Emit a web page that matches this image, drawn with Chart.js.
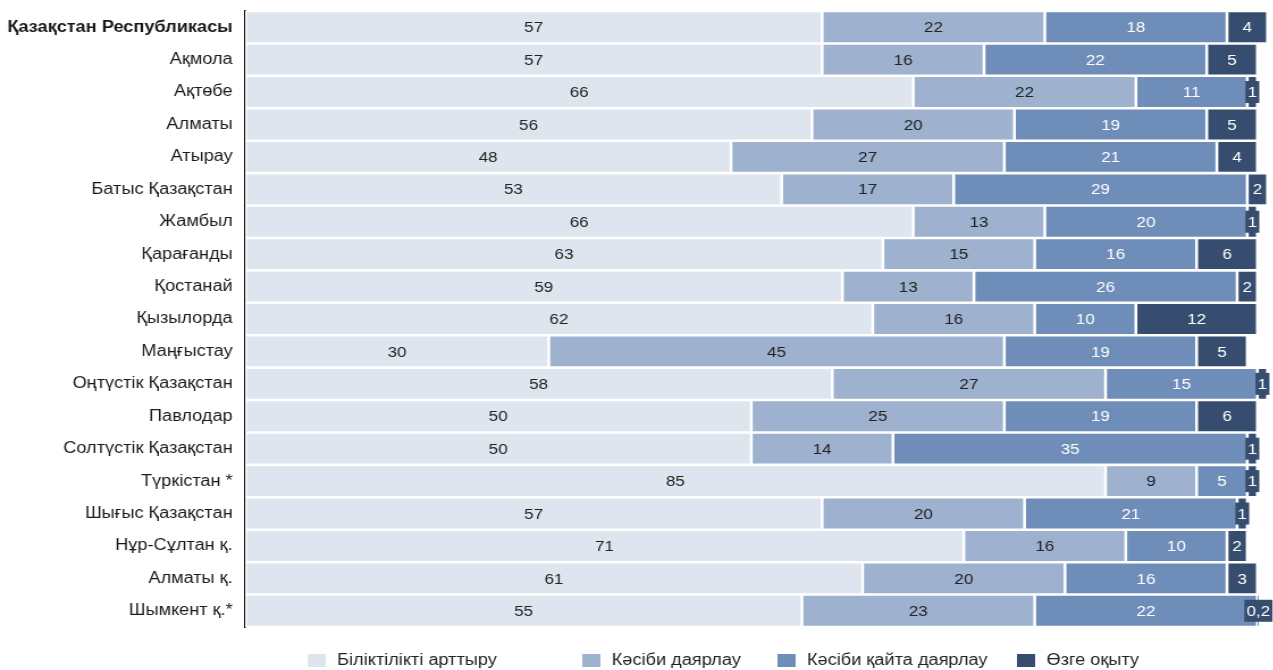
<!DOCTYPE html>
<html>
<head>
<meta charset="utf-8">
<script src="https://cdn.jsdelivr.net/npm/chart.js@4.4.1/dist/chart.umd.min.js"></script>
<style>
  html, body { margin: 0; padding: 0; background: #ffffff; overflow: hidden; }
  #wrap { position: relative; width: 1273px; height: 670px; overflow: hidden; }
  /* the drawing is laid out on a narrower canvas and widened to the page */
  #chart { display: block; transform-origin: 0 0; transform: scaleX(1.135); }
</style>
</head>
<body>
<div id="wrap"><canvas id="chart" width="1122" height="670" style="width:1122px;height:670px"></canvas></div>
<script>
// Regions of Kazakhstan and the share (%) of each training type
const regions = [
  'Қазақстан Республикасы', 'Ақмола', 'Ақтөбе', 'Алматы', 'Атырау',
  'Батыс Қазақстан', 'Жамбыл', 'Қарағанды', 'Қостанай', 'Қызылорда',
  'Маңғыстау', 'Оңтүстік Қазақстан', 'Павлодар', 'Солтүстік Қазақстан',
  'Түркістан *', 'Шығыс Қазақстан', 'Нұр-Сұлтан қ.', 'Алматы қ.', 'Шымкент қ.*'
];

const seriesNames = ['Біліктілікті арттыру', 'Кәсіби даярлау', 'Кәсіби қайта даярлау', 'Өзге оқыту'];

const upskilling   = [57, 57, 66, 56, 48, 53, 66, 63, 59, 62, 30, 58, 50, 50, 85, 57, 71, 61, 55];
const vocational   = [22, 16, 22, 20, 27, 17, 13, 15, 13, 16, 45, 27, 25, 14,  9, 20, 16, 20, 23];
const retraining   = [18, 22, 11, 19, 21, 29, 20, 16, 26, 10, 19, 15, 19, 35,  5, 21, 10, 16, 22];
const otherTraining = [4,  5,  1,  5,  4,  2,  1,  6,  2, 12,  5,  1,  6,  1,  1,  1,  2,  3, 0.2];

const fills = ['#dfe5ee', '#9eb1ce', '#6e8db8', '#374d6f'];
const labelInk = ['#222222', '#222222', '#ffffff', '#ffffff'];
const FONT = '"Liberation Sans", Arial, sans-serif';

const fmt = v => String(v).replace('.', ',');

// Value labels centred in each segment; the last series gets a dark chip
const segmentLabels = {
  id: 'segmentLabels',
  afterDatasetsDraw(chart) {
    const ctx = chart.ctx;
    ctx.save();
    ctx.font = '15px ' + FONT;
    ctx.textAlign = 'center';
    ctx.textBaseline = 'middle';
    chart.data.datasets.forEach((ds, di) => {
      const meta = chart.getDatasetMeta(di);
      meta.data.forEach((bar, i) => {
        const txt = fmt(ds.data[i]);
        const cx = (bar.x + bar.base) / 2;
        const cy = bar.y;
        if (di === 3) {
          const w = ctx.measureText(txt).width + 4;
          const segW = Math.abs(bar.x - bar.base) - 3;
          if (w > segW) {
            ctx.fillStyle = fills[3];
            ctx.fillRect(cx - w / 2, cy - 11, w, 22);
          }
        }
        ctx.fillStyle = labelInk[di];
        ctx.fillText(txt, cx, cy + 1);
      });
    });
    ctx.restore();
  }
};

// Legend row along the bottom edge
const bottomLegend = {
  id: 'bottomLegend',
  afterDraw(chart) {
    const ctx = chart.ctx;
    const xs = [271, 513, 685, 896];
    ctx.save();
    ctx.font = '16px ' + FONT;
    ctx.textBaseline = 'middle';
    ctx.textAlign = 'left';
    seriesNames.forEach((name, k) => {
      ctx.fillStyle = fills[k];
      ctx.fillRect(xs[k], 654, 16, 13);
      ctx.fillStyle = '#222222';
      ctx.fillText(name, xs[k] + 26, 661);
    });
    ctx.restore();
  }
};

const datasets = [upskilling, vocational, retraining, otherTraining].map((vals, k) => ({
  label: seriesNames[k],
  data: vals,
  backgroundColor: fills[k],
  borderColor: '#ffffff',
  borderWidth: 1.6,
  borderSkipped: false,
  barPercentage: 1,
  categoryPercentage: 1
}));

new Chart(document.getElementById('chart'), {
  type: 'bar',
  data: { labels: regions, datasets },
  options: {
    indexAxis: 'y',
    responsive: false,
    animation: false,
    devicePixelRatio: 1,
    layout: { padding: { top: 11, bottom: 43, right: 2.6, left: 0 } },
    plugins: { legend: { display: false }, tooltip: { enabled: false } },
    scales: {
      x: {
        stacked: true,
        display: false,
        min: 0,
        max: 101.3
      },
      y: {
        stacked: true,
        grid: { display: false, drawTicks: false },
        border: { display: true, color: '#000000', width: 1.4 },
        afterFit(scale) {
          scale.width = 216;
          scale.paddingTop = 0;
          scale.paddingBottom = 0;
        },
        ticks: {
          padding: 11,
          color: '#1a1a1a',
          font: (c) => ({
            family: FONT,
            size: 16,
            weight: c.index === 0 ? 'bold' : 'normal'
          })
        }
      }
    }
  },
  plugins: [segmentLabels, bottomLegend]
});
</script>
</body>
</html>
